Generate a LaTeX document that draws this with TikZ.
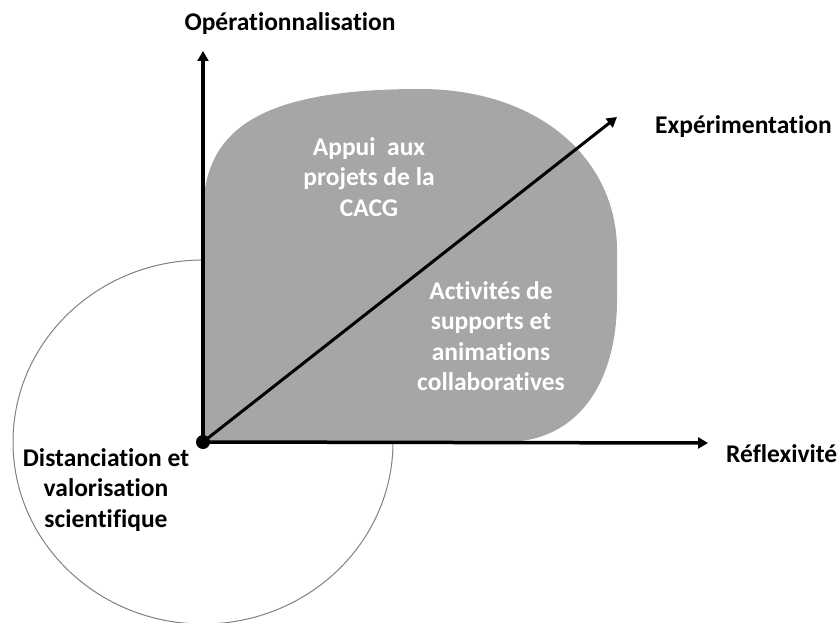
\documentclass[tikz,border=0pt]{standalone}
\usepackage{fontspec}
\setmainfont{Carlito}[Ligatures=NoCommon]
\usetikzlibrary{arrows.meta}
\definecolor{blobgray}{HTML}{A6A6A6}
\begin{document}
\begin{tikzpicture}[x=1pt, y=-1pt,
    axis/.style={line width=3.5pt, -{Triangle[length=10pt,width=11pt]}},
    diag/.style={line width=3pt, -{Triangle[length=10pt,width=11pt]}},
    lbl/.style={font=\fontsize{25.5}{30.5}\selectfont\bfseries, align=center, inner sep=0pt},
    inlbl/.style={lbl, text=white}]
    \useasboundingbox (0,0) rectangle (840,623);
    % pixel grid, y runs down, origin of the axes at (203,442)
    \coordinate (O) at (203,442);
    \coordinate (opTip) at (203,51);
    \coordinate (refTip) at (708,443);
    \coordinate (expTip) at (617,117);
    \draw[draw=gray, line width=1pt] (O) ellipse [x radius=190, y radius=182];
    \fill[blobgray] (203,442) -- (203,215) .. controls (203,135) and (250,89) .. (420,89)
        .. controls (540,89) and (617,160) .. (617,250) -- (617,300)
        .. controls (617,380) and (580,442) .. (505,442) -- cycle;
    \draw[axis] (O) -- (opTip);
    \draw[axis] (O) -- (refTip);
    \draw[diag] (O) -- (expTip);
    \fill (O) circle (7);
    \node[lbl] (op) at (290,24) {Opérationnalisation};
    \node[lbl, anchor=west] (exp) at (655,127) {Expérimentation};
    \node[lbl, anchor=west] (ref) at (726,454) {Réflexivité};
    \node[lbl] (dist) at (106,490) {Distanciation et\\valorisation\\scientifique};
    \node[inlbl] (appui) at (369,177) {Appui~ aux\\projets de la\\CACG};
    \node[inlbl] (activ) at (491,336) {Activités de\\supports et\\animations\\collaboratives};
\end{tikzpicture}
\end{document}
